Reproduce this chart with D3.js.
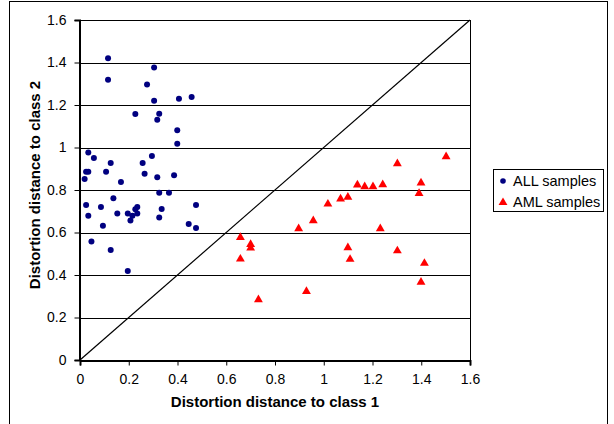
<!DOCTYPE html>
<html lang="en">
<head>
<meta charset="UTF-8">
<title>Distortion distance scatter</title>
<script src="https://d3js.org/d3.v7.min.js"></script>
<style>
  html, body { margin: 0; padding: 0; background: #fff; }
  svg { display: block; font-family: "Liberation Sans", Arial, sans-serif; }
</style>
</head>
<body>
<svg id="chart" width="614" height="424"></svg>
<script>
  // ALL samples: [distance to class 1, distance to class 2]
  const allSamples = [
    [0.115, 1.42], [0.304, 1.377], [0.115, 1.319], [0.275, 1.297], [0.304, 1.22],
    [0.406, 1.23], [0.458, 1.238], [0.227, 1.158], [0.325, 1.159], [0.317, 1.131],
    [0.399, 1.081], [0.399, 1.018], [0.034, 0.977], [0.057, 0.951], [0.126, 0.927],
    [0.295, 0.96], [0.257, 0.927], [0.025, 0.886], [0.034, 0.886], [0.107, 0.886],
    [0.019, 0.852], [0.265, 0.877], [0.317, 0.86], [0.386, 0.869], [0.168, 0.838],
    [0.325, 0.787], [0.365, 0.787], [0.137, 0.761], [0.025, 0.729], [0.086, 0.72],
    [0.476, 0.729], [0.034, 0.679], [0.153, 0.689], [0.196, 0.689], [0.215, 0.679],
    [0.235, 0.689], [0.235, 0.72], [0.227, 0.709], [0.207, 0.657], [0.335, 0.711],
    [0.325, 0.671], [0.446, 0.64], [0.476, 0.621], [0.094, 0.632], [0.047, 0.558],
    [0.126, 0.518], [0.196, 0.419]
  ];

  // AML samples
  const amlSamples = [
    [1.502, 0.957], [1.302, 0.924], [1.138, 0.824], [1.168, 0.816], [1.202, 0.816],
    [1.242, 0.825], [1.399, 0.833], [1.391, 0.784], [1.069, 0.758], [1.099, 0.766],
    [1.017, 0.734], [0.957, 0.656], [0.897, 0.618], [1.232, 0.618], [0.658, 0.577],
    [0.70, 0.544], [0.70, 0.527], [0.658, 0.475], [1.099, 0.529], [1.302, 0.514],
    [1.108, 0.474], [1.413, 0.455], [1.399, 0.366], [0.929, 0.323], [0.732, 0.284]
  ];

  const ticks = [0, 0.2, 0.4, 0.6, 0.8, 1, 1.2, 1.4, 1.6];
  const seriesNames = ["ALL samples", "AML samples"];

  const svg = d3.select("#chart");
  const plot = { left: 80, top: 20, right: 470, bottom: 360 };

  const x = d3.scaleLinear().domain([0, 1.6]).range([plot.left, plot.right]);
  const y = d3.scaleLinear().domain([0, 1.6]).range([plot.bottom, plot.top]);

  // outer chart frame
  svg.append("rect")
    .attr("x", 9.5).attr("y", 1.5)
    .attr("width", 598).attr("height", 440)
    .attr("fill", "none").attr("stroke", "#000").attr("stroke-width", 1);

  // horizontal gridlines
  svg.append("g")
    .selectAll("line")
    .data(ticks.slice(1))
    .join("line")
    .attr("x1", plot.left).attr("x2", plot.right)
    .attr("y1", d => Math.round(y(d)) + 0.5)
    .attr("y2", d => Math.round(y(d)) + 0.5)
    .attr("stroke", "#000").attr("stroke-width", 1);

  // right border of plot area
  svg.append("line")
    .attr("x1", plot.right + 0.5).attr("x2", plot.right + 0.5)
    .attr("y1", plot.top).attr("y2", plot.bottom)
    .attr("stroke", "#000");

  // diagonal
  svg.append("line")
    .attr("x1", x(0)).attr("y1", y(0))
    .attr("x2", x(1.6)).attr("y2", y(1.6))
    .attr("stroke", "#000").attr("stroke-width", 1.2);

  // axes
  const xAxis = d3.axisBottom(x).tickValues(ticks).tickSize(5).tickPadding(9)
    .tickFormat(d3.format("~g"));
  const yAxis = d3.axisLeft(y).tickValues(ticks).tickSize(5).tickPadding(8)
    .tickFormat(d3.format("~g"));

  const gx = svg.append("g").attr("transform", `translate(0,${plot.bottom + 0.5})`).call(xAxis);
  const gy = svg.append("g").attr("transform", `translate(${plot.left - 0.5},0)`).call(yAxis);

  [gx, gy].forEach(g => {
    g.select(".domain").attr("stroke", "#000").attr("stroke-width", 2);
    g.selectAll(".tick line").attr("stroke", "#000");
    g.selectAll(".tick text")
      .attr("fill", "#000")
      .style("font-size", "14px")
      .style("font-family", "'Liberation Sans', Arial, sans-serif");
  });

  // axis titles
  svg.append("text")
    .attr("x", (plot.left + plot.right) / 2)
    .attr("y", 407)
    .attr("text-anchor", "middle")
    .style("font-size", "15px").style("font-weight", "bold")
    .text("Distortion distance to class 1");

  svg.append("text")
    .attr("transform", `translate(40,${(plot.top + plot.bottom) / 2 - 5}) rotate(-90)`)
    .attr("text-anchor", "middle")
    .style("font-size", "15px").style("font-weight", "bold")
    .text("Distortion distance to class 2");

  // points
  svg.append("g")
    .selectAll("circle")
    .data(allSamples)
    .join("circle")
    .attr("cx", d => x(d[0]))
    .attr("cy", d => y(d[1]))
    .attr("r", 3)
    .attr("fill", "#000080");

  const tri = d3.symbol().type(d3.symbolTriangle).size(34);
  svg.append("g")
    .selectAll("path")
    .data(amlSamples)
    .join("path")
    .attr("transform", d => `translate(${x(d[0])},${y(d[1])})`)
    .attr("d", tri)
    .attr("fill", "#ff0000");

  // legend
  const legend = svg.append("g").attr("transform", "translate(493.5,169.5)");
  legend.append("rect")
    .attr("width", 110).attr("height", 42)
    .attr("fill", "#fff").attr("stroke", "#000");

  legend.append("circle").attr("cx", 9.5).attr("cy", 11.5).attr("r", 2.8).attr("fill", "#000080");
  legend.append("path")
    .attr("transform", "translate(9.5,33)")
    .attr("d", tri)
    .attr("fill", "#ff0000");

  legend.selectAll("text")
    .data(seriesNames)
    .join("text")
    .attr("x", 19.5)
    .attr("y", (d, i) => 16.5 + i * 21)
    .style("font-size", "14.5px")
    .text(d => d);
</script>
</body>
</html>
